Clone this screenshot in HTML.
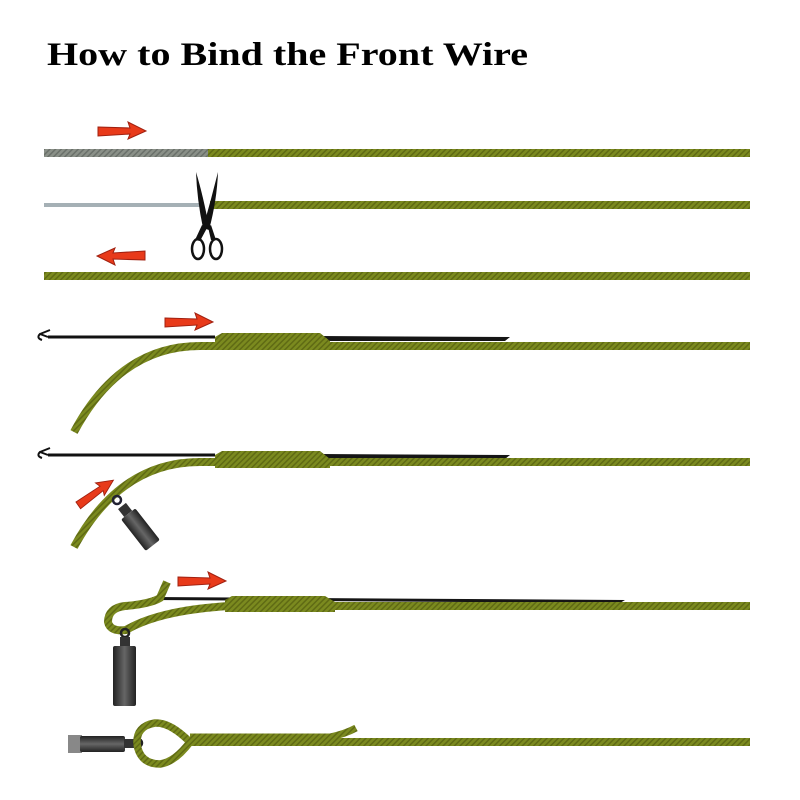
<!DOCTYPE html>
<html><head><meta charset="utf-8"><style>html,body{margin:0;padding:0;background:#fff}svg{display:block}</style></head>
<body>
<svg width="800" height="800" viewBox="0 0 800 800" xmlns="http://www.w3.org/2000/svg">
<defs>
<pattern id="rope" width="4" height="4" patternUnits="userSpaceOnUse" patternTransform="rotate(45)">
<rect width="4" height="4" fill="#7b8a1f"/><rect width="1.5" height="4" fill="#5f6a14"/>
</pattern>
<pattern id="grope" width="4" height="4" patternUnits="userSpaceOnUse" patternTransform="rotate(45)">
<rect width="4" height="4" fill="#8a9088"/><rect width="1.5" height="4" fill="#6a706a"/>
</pattern>
<linearGradient id="sw" x1="0" x2="1"><stop offset="0" stop-color="#222"/><stop offset="0.5" stop-color="#666"/><stop offset="1" stop-color="#222"/></linearGradient>
<linearGradient id="swh" x1="0" x2="0" y1="0" y2="1"><stop offset="0" stop-color="#222"/><stop offset="0.5" stop-color="#666"/><stop offset="1" stop-color="#222"/></linearGradient>
<g id="arr"><polygon points="0,-4 32,-3 30,-9 48,0 30,8 32,3 0,5" fill="#e83a1a" stroke="#a02010" stroke-width="1"/></g>
</defs>
<text x="47" y="65" font-family="Liberation Serif, serif" font-weight="bold" font-size="33" textLength="481" lengthAdjust="spacingAndGlyphs" fill="#000">How to Bind the Front Wire</text>

<!-- row1 -->
<use href="#arr" x="98" y="131"/>
<rect x="44" y="149" width="165" height="8" fill="url(#grope)"/>
<rect x="208" y="149" width="542" height="8" fill="url(#rope)"/>
<!-- row2 -->
<rect x="44" y="203" width="160" height="4" fill="#a5b0b5"/>
<rect x="210" y="201" width="540" height="8" fill="url(#rope)"/>
<g fill="#111">
<path d="M196,172 Q197,200 203,228 L209,227 Q203,195 196,172 Z"/>
<path d="M218,172 Q211,200 203,228 L209,230 Q217,200 218,172 Z"/>
<path d="M202,225 L195,240 L200,241 L207,228 Z"/><path d="M208,227 L211,240 L216,240 L211,225 Z"/>
</g>
<ellipse cx="198" cy="249" rx="6" ry="10" fill="none" stroke="#111" stroke-width="2.5"/>
<ellipse cx="216" cy="249" rx="6" ry="10" fill="none" stroke="#111" stroke-width="2.5"/>
<!-- row3 -->
<use href="#arr" x="145" y="256" transform="rotate(180 145 256)"/>
<rect x="44" y="272" width="706" height="8" fill="url(#rope)"/>

<!-- row4 -->
<use href="#arr" x="165" y="322"/>
<path d="M48,337 L215,337" stroke="#111" stroke-width="3"/>
<path d="M48,337 L40,334 Q36,338 42,340 M40,334 L50,330" stroke="#111" stroke-width="2" fill="none"/>
<polygon points="320,336 510,337 505,341 320,341" fill="#151515"/>
<path d="M74,432 Q120,346 200,346 L750,346" stroke="url(#rope)" stroke-width="8" fill="none"/>
<polygon points="215,337 222,333 320,333 330,341 330,350 215,350" fill="url(#rope)"/>

<!-- row5 -->
<path d="M48,455 L215,455" stroke="#111" stroke-width="3"/>
<path d="M48,455 L40,452 Q36,456 42,458 M40,452 L50,448" stroke="#111" stroke-width="2" fill="none"/>
<polygon points="320,454 510,455 505,459 320,459" fill="#151515"/>
<path d="M74,547 Q120,462 200,462 L750,462" stroke="url(#rope)" stroke-width="8" fill="none"/>
<polygon points="215,455 222,451 320,451 330,459 330,468 215,468" fill="url(#rope)"/>
<use href="#arr" x="0" y="0" transform="translate(78 505) rotate(-35) scale(0.9)"/>
<circle cx="117" cy="500" r="4" fill="none" stroke="#223" stroke-width="2.5"/>
<g transform="translate(122 506) rotate(-38)">
<rect x="-5" y="0" width="10" height="10" fill="#333"/>
<rect x="-9" y="10" width="18" height="40" rx="2" fill="url(#sw)"/>
</g>

<!-- row6 -->
<use href="#arr" x="178" y="581"/>
<path d="M152,597 L625,600 L620,603 L152,600 Z" fill="#151515"/>
<path d="M167,582 L160,598 Q150,604 125,606 Q108,608 108,622 Q110,632 126,630 Q160,610 230,606 L750,606" stroke="url(#rope)" stroke-width="8" fill="none"/>
<polygon points="225,600 232,596 325,596 335,602 335,612 225,612" fill="url(#rope)"/>
<circle cx="125" cy="633" r="4" fill="none" stroke="#222" stroke-width="2.5"/>
<rect x="120" y="637" width="10" height="10" fill="#333"/>
<rect x="113" y="646" width="23" height="60" rx="2" fill="url(#sw)"/>

<!-- row7 -->
<rect x="68" y="735" width="14" height="18" fill="#888"/>
<rect x="80" y="736" width="45" height="16" rx="2" fill="url(#swh)"/>
<rect x="124" y="739" width="10" height="9" fill="#333"/>
<circle cx="138" cy="743" r="4" fill="none" stroke="#222" stroke-width="2.5"/>
<path d="M190,742 Q170,722 155,723 Q136,726 137,744 Q140,764 160,764 Q175,762 190,742 Z" stroke="url(#rope)" stroke-width="7.5" fill="none"/>
<path d="M185,742 L750,742" stroke="url(#rope)" stroke-width="8"/>
<path d="M190,737 L330,737 Q345,734 356,728" stroke="url(#rope)" stroke-width="7" fill="none"/>
</svg>
</body></html>
